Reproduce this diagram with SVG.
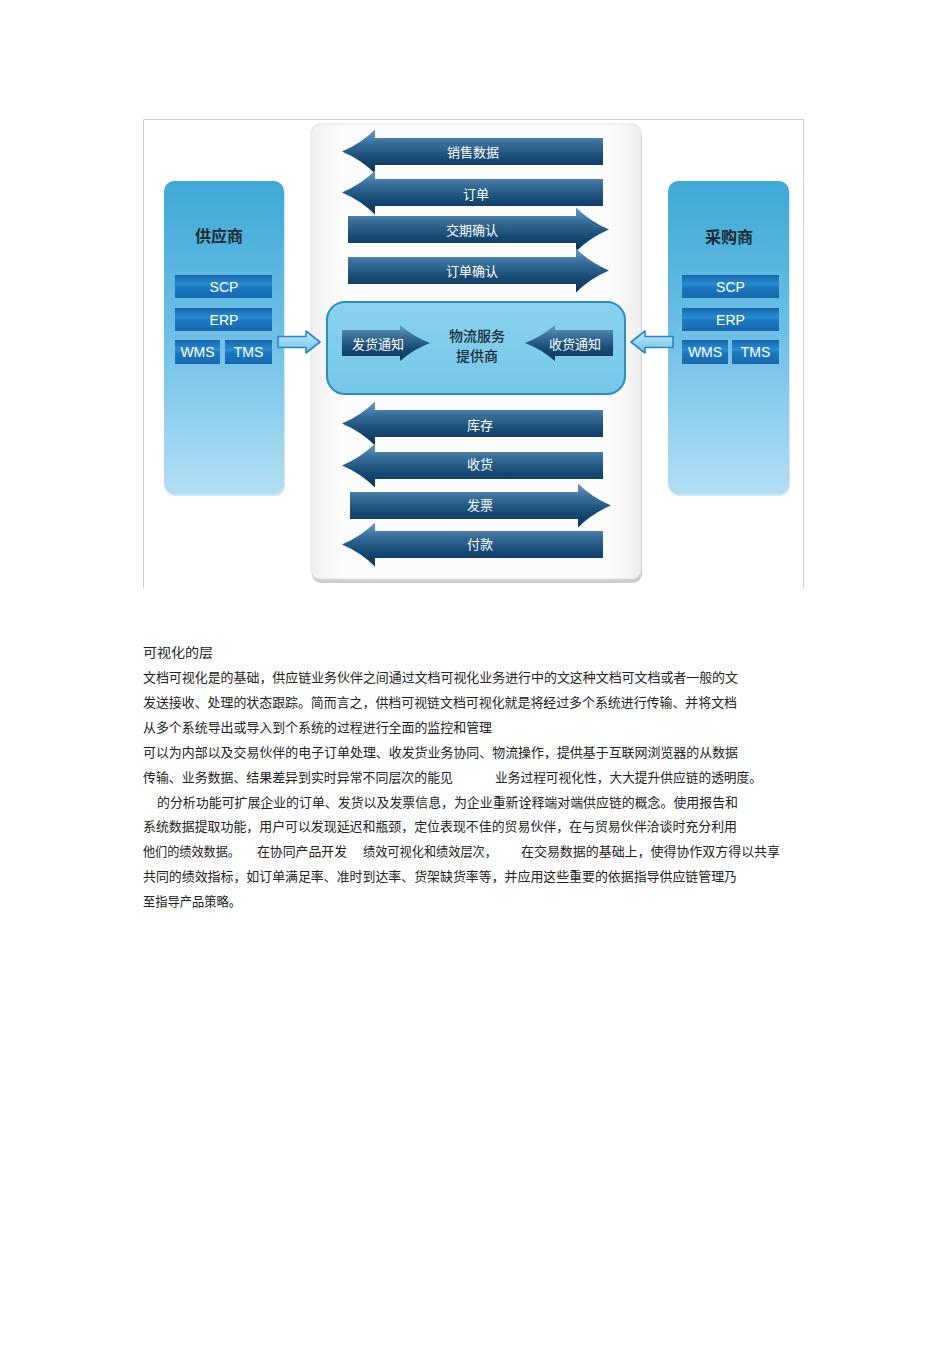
<svg xmlns="http://www.w3.org/2000/svg" xmlns:xlink="http://www.w3.org/1999/xlink" width="950" height="1345" viewBox="0 0 950 1345">
<style>
.cjk{font-family:"Noto Sans CJK SC","Noto Sans",sans-serif;}
.lbl{font-family:"Noto Sans CJK SC","Noto Sans",sans-serif;font-size:13px;fill:#ffffff;text-anchor:middle;dominant-baseline:central;}
.sys{font-family:"Liberation Sans Narrow","Liberation Sans",Arial,sans-serif;font-size:14px;fill:#ffffff;text-anchor:middle;dominant-baseline:central;}
.title{font-family:"Noto Sans CJK SC",sans-serif;font-size:16px;font-weight:bold;fill:#1e2a36;text-anchor:middle;dominant-baseline:central;}
.body{font-family:"Noto Sans CJK SC","Noto Sans",sans-serif;font-size:13px;fill:#222222;}
.bar{fill:url(#gArrow);}
.sysbar{fill:url(#gSys);}
.hollow{fill:url(#gHollow);stroke:#2b88bd;stroke-width:1.6;stroke-linejoin:round;}
.frame{stroke:#cfcfcf;stroke-width:1;fill:none;}
</style>
<defs>
<linearGradient id="gArrow" x1="0" y1="0" x2="0" y2="1">
<stop offset="0" stop-color="#6a9cc0"/>
<stop offset="0.3" stop-color="#3a709b"/>
<stop offset="0.65" stop-color="#174b75"/>
<stop offset="1" stop-color="#0b3353"/>
</linearGradient>
<linearGradient id="gSys" x1="0" y1="0" x2="0" y2="1">
<stop offset="0" stop-color="#1466ac"/>
<stop offset="0.4" stop-color="#2a8cd1"/>
<stop offset="0.55" stop-color="#1a78c0"/>
<stop offset="1" stop-color="#1768ae"/>
</linearGradient>
<linearGradient id="gSide" x1="0" y1="0" x2="0" y2="1">
<stop offset="0" stop-color="#3ea8d6"/>
<stop offset="0.5" stop-color="#6fc0e7"/>
<stop offset="1" stop-color="#b2def4"/>
</linearGradient>
<linearGradient id="gCenter" x1="0" y1="0" x2="1" y2="0">
<stop offset="0" stop-color="#f0f0f0"/>
<stop offset="0.1" stop-color="#fcfcfc"/>
<stop offset="0.9" stop-color="#fcfcfc"/>
<stop offset="1" stop-color="#eeeeee"/>
</linearGradient>
<linearGradient id="gBox" x1="0" y1="0" x2="0" y2="1">
<stop offset="0" stop-color="#8ad3ef"/>
<stop offset="1" stop-color="#73c6e7"/>
</linearGradient>
<linearGradient id="gHollow" x1="0" y1="0" x2="0" y2="1">
<stop offset="0" stop-color="#c4ebf9"/>
<stop offset="1" stop-color="#6cc3e8"/>
</linearGradient>
<path id="bigArrow" d="M0,0 Q19,-8 33,-22 L33,-13.5 L261,-13.5 L261,13.5 L33,13.5 L33,22 Q19,8 0,0 Z"/>
<path id="smallArrow" d="M0,0 Q16,-6 30,-18 L30,-13 L88,-13 L88,13 L30,13 L30,18 Q16,6 0,0 Z"/>
<path id="hollowArrow" d="M0,-5.5 L28,-5.5 L28,-11 L42,0 L28,11 L28,5.5 L0,5.5 Z"/>
</defs>

<rect width="950" height="1345" fill="#ffffff"/>

<!-- image frame -->
<path class="frame" d="M143.5,588 L143.5,119.5 L803.5,119.5 L803.5,588"/>

<!-- center panel -->
<g id="center-panel">
<rect x="312" y="128" width="330" height="455" rx="9" fill="#b8b8b8" opacity="0.7"/>
<rect x="311" y="124" width="330" height="455" rx="9" fill="url(#gCenter)" stroke="#e2e2e2" stroke-width="1"/>
</g>

<!-- supplier -->
<g id="supplier">
<rect x="165" y="183" width="120" height="313" rx="10" fill="#9fd4ee" opacity="0.5"/>
<rect x="164" y="181" width="120" height="313" rx="10" fill="url(#gSide)"/>
<text class="title" x="219" y="235">供应商</text>
<g id="supplier-scp"><rect class="sysbar" x="175" y="275" width="97" height="23"/><text class="sys" x="224" y="286.5">SCP</text></g>
<g id="supplier-erp"><rect class="sysbar" x="175" y="308" width="97" height="23"/><text class="sys" x="224" y="319.5">ERP</text></g>
<g id="supplier-wms"><rect class="sysbar" x="175" y="340" width="45" height="24"/><text class="sys" x="197.5" y="352">WMS</text></g>
<g id="supplier-tms"><rect class="sysbar" x="225" y="340" width="47" height="24"/><text class="sys" x="248.5" y="352">TMS</text></g>
</g>

<!-- buyer -->
<g id="buyer">
<rect x="669" y="183" width="121" height="313" rx="10" fill="#9fd4ee" opacity="0.5"/>
<rect x="668" y="181" width="121" height="313" rx="10" fill="url(#gSide)"/>
<text class="title" x="729" y="236">采购商</text>
<g id="buyer-scp"><rect class="sysbar" x="682" y="275" width="97" height="23"/><text class="sys" x="730.5" y="286.5">SCP</text></g>
<g id="buyer-erp"><rect class="sysbar" x="682" y="308" width="97" height="23"/><text class="sys" x="730.5" y="319.5">ERP</text></g>
<g id="buyer-wms"><rect class="sysbar" x="682" y="340" width="46" height="24"/><text class="sys" x="705" y="352">WMS</text></g>
<g id="buyer-tms"><rect class="sysbar" x="732" y="340" width="47" height="24"/><text class="sys" x="755.5" y="352">TMS</text></g>
</g>

<!-- logistics provider -->
<g id="logistics">
<rect x="327" y="302" width="298" height="92" rx="18" fill="url(#gBox)" stroke="#2f8bc0" stroke-width="2"/>
<text class="cjk" x="477" y="341" font-size="14" fill="#1b2a38" text-anchor="middle" font-weight="500">物流服务</text>
<text class="cjk" x="477" y="361" font-size="14" fill="#1b2a38" text-anchor="middle" font-weight="500">提供商</text>
<g id="ship-notice">
<use href="#smallArrow" xlink:href="#smallArrow" class="bar" transform="translate(430,343) scale(-1,1)"/>
<text class="lbl" x="378" y="343">发货通知</text>
</g>
<g id="receive-notice">
<use href="#smallArrow" xlink:href="#smallArrow" class="bar" transform="translate(525,343)"/>
<text class="lbl" x="575" y="343">收货通知</text>
</g>
</g>

<!-- connectors -->
<g id="connectors">
<use href="#hollowArrow" xlink:href="#hollowArrow" class="hollow" transform="translate(278,342)"/>
<use href="#hollowArrow" xlink:href="#hollowArrow" class="hollow" transform="translate(673,342) scale(-1,1)"/>
</g>

<!-- data flow arrows -->
<g id="flow-sales"><use href="#bigArrow" xlink:href="#bigArrow" class="bar" transform="translate(342,151.5)"/><text class="lbl" x="473" y="151">销售数据</text></g>
<g id="flow-order"><use href="#bigArrow" xlink:href="#bigArrow" class="bar" transform="translate(342,192.5)"/><text class="lbl" x="476" y="193">订单</text></g>
<g id="flow-delivery-confirm"><use href="#bigArrow" xlink:href="#bigArrow" class="bar" transform="translate(609,229.5) scale(-1,1)"/><text class="lbl" x="472" y="229">交期确认</text></g>
<g id="flow-order-confirm"><use href="#bigArrow" xlink:href="#bigArrow" class="bar" transform="translate(609,270.5) scale(-1,1)"/><text class="lbl" x="472" y="270">订单确认</text></g>
<g id="flow-inventory"><use href="#bigArrow" xlink:href="#bigArrow" class="bar" transform="translate(342,423.5)"/><text class="lbl" x="480" y="424">库存</text></g>
<g id="flow-receipt"><use href="#bigArrow" xlink:href="#bigArrow" class="bar" transform="translate(342,465.5)"/><text class="lbl" x="480" y="463">收货</text></g>
<g id="flow-invoice"><use href="#bigArrow" xlink:href="#bigArrow" class="bar" transform="translate(611,505.5) scale(-1,1)"/><text class="lbl" x="480" y="504">发票</text></g>
<g id="flow-payment"><use href="#bigArrow" xlink:href="#bigArrow" class="bar" transform="translate(342,544.5)"/><text class="lbl" x="480" y="543">付款</text></g>

<!-- body text -->
<g id="body-text" class="body">
<text x="143" y="657" textLength="70" lengthAdjust="spacingAndGlyphs">可视化的层</text>
<text x="143" y="682" textLength="595" lengthAdjust="spacingAndGlyphs">文档可视化是的基础，供应链业务伙伴之间通过文档可视化业务进行中的文这种文档可文档或者一般的文</text>
<text x="143" y="707" textLength="594" lengthAdjust="spacingAndGlyphs">发送接收、处理的状态跟踪。简而言之，供档可视链文档可视化就是将经过多个系统进行传输、并将文档</text>
<text x="143" y="732" textLength="349" lengthAdjust="spacingAndGlyphs">从多个系统导出或导入到个系统的过程进行全面的监控和管理</text>
<text x="143" y="757" textLength="595" lengthAdjust="spacingAndGlyphs">可以为内部以及交易伙伴的电子订单处理、收发货业务协同、物流操作，提供基于互联网浏览器的从数据</text>
<text x="143" y="782" textLength="310" lengthAdjust="spacingAndGlyphs">传输、业务数据、结果差异到实时异常不同层次的能见</text>
<text x="495" y="782" textLength="267" lengthAdjust="spacingAndGlyphs">业务过程可视化性，大大提升供应链的透明度。</text>
<text x="157" y="807" textLength="581" lengthAdjust="spacingAndGlyphs">的分析功能可扩展企业的订单、发货以及发票信息，为企业重新诠释端对端供应链的概念。使用报告和</text>
<text x="143" y="831" textLength="594" lengthAdjust="spacingAndGlyphs">系统数据提取功能，用户可以发现延迟和瓶颈，定位表现不佳的贸易伙伴，在与贸易伙伴洽谈时充分利用</text>
<text x="143" y="856" textLength="97" lengthAdjust="spacingAndGlyphs">他们的绩效数据。</text>
<text x="257" y="856" textLength="90" lengthAdjust="spacingAndGlyphs">在协同产品开发</text>
<text x="363" y="856" textLength="134" lengthAdjust="spacingAndGlyphs">绩效可视化和绩效层次，</text>
<text x="521" y="856" textLength="259" lengthAdjust="spacingAndGlyphs">在交易数据的基础上，使得协作双方得以共享</text>
<text x="143" y="881" textLength="594" lengthAdjust="spacingAndGlyphs">共同的绩效指标，如订单满足率、准时到达率、货架缺货率等，并应用这些重要的依据指导供应链管理乃</text>
<text x="143" y="906" textLength="98" lengthAdjust="spacingAndGlyphs">至指导产品策略。</text>
</g>
</svg>
